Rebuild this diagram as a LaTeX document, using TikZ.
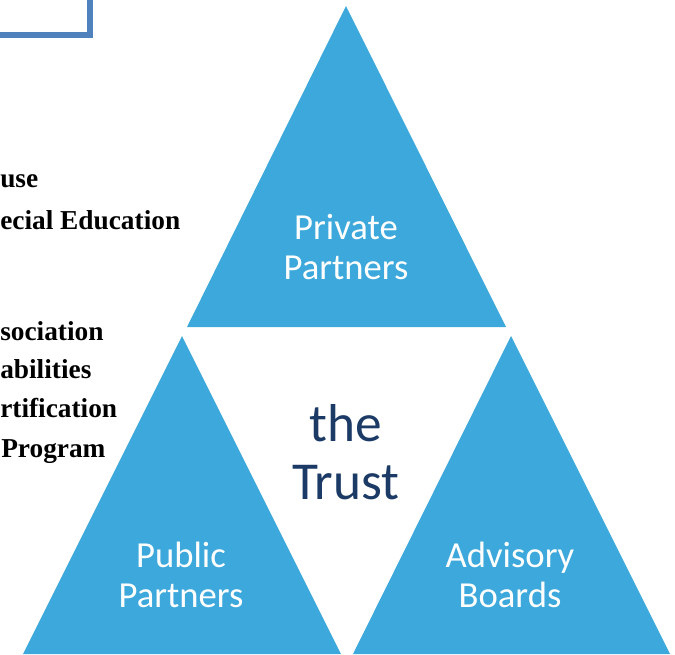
\documentclass[tikz,border=0pt]{standalone}
\usepackage{fontspec}
\setmainfont{Carlito}
\newfontfamily\leftserif{Liberation Serif}
\definecolor{trustblue}{HTML}{3DA8DB}
\definecolor{trustnavy}{HTML}{1B3A66}
\definecolor{framecol}{HTML}{4F81BD}
\tikzset{
  tri/.style={fill=trustblue, draw=none},
  tritext/.style={text=white, align=center, font=\fontsize{27.5}{30}\selectfont},
  listtext/.style={anchor=base west, inner sep=0pt, font=\leftserif\bfseries\fontsize{20.5}{24}\selectfont}
}

\begin{document}
\begin{tikzpicture}[x=0.75pt, y=-0.75pt]
        \useasboundingbox (0, 0) rectangle (675, 654);
        \clip (0, 0) rectangle (675, 654);
        \coordinate (boxcorner) at (90, 35);
        \draw[framecol, line width=4.4pt] (0, 35) -- (boxcorner) -- (90, -5);
        \draw[tri] (346, 6) -- (187, 327) -- (506, 327) -- cycle;
        \draw[tri] (182, 336) -- (23, 654) -- (341, 654) -- cycle;
        \draw[tri] (511, 336) -- (353, 654) -- (670, 654) -- cycle;
        \node[tritext] (private) at (346, 247) {Private\\Partners};
        \node[tritext] (public) at (181, 575) {Public\\Partners};
        \node[tritext] (advisory) at (510, 575) {Advisory\\Boards};
        \node[text=trustnavy, align=center, font=\fontsize{40}{43.5}\selectfont] (trust) at (346, 452) {the\\Trust};
        \node[listtext] (l1) at (0, 187) {use};
        \node[listtext] (l2) at (0, 229) {ecial Education};
        \node[listtext] (l3) at (0, 340) {sociation};
        \node[listtext] (l4) at (0, 378) {abilities};
        \node[listtext] (l5) at (0, 417) {rtification};
        \node[listtext] (l6) at (1, 457) {Program};
\end{tikzpicture}
\end{document}
